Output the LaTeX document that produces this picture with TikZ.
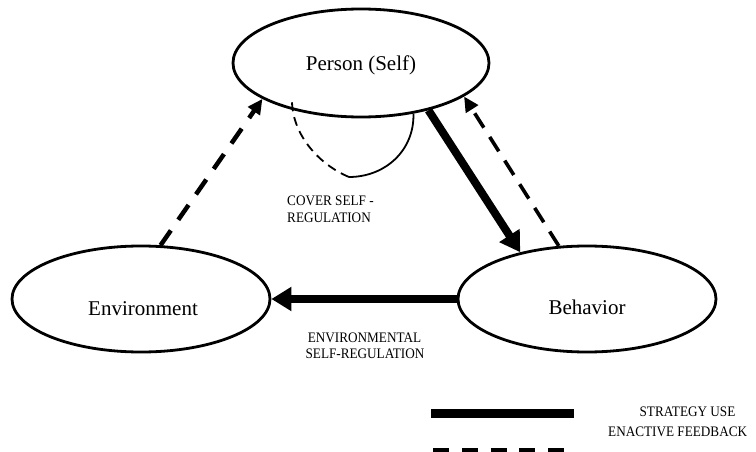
\documentclass[tikz,border=0pt]{standalone}
\usepackage{fontspec}
\setmainfont{Liberation Serif}
\usetikzlibrary{shapes.geometric,arrows.meta}
\newcommand{\tallish}[1]{\scalebox{1}[1.1]{#1}}
\begin{document}
\begin{tikzpicture}[x=1pt,y=-1pt,
  bubble/.style={ellipse, draw, line width=2.8pt, inner sep=0pt},
  bigtxt/.style={font=\fontsize{21}{25}\selectfont, inner sep=0pt, anchor=base},
  smalltxt/.style={font=\fontsize{13.2}{16}\selectfont, inner sep=0pt, anchor=base},
  strongarrow/.style={line width=8pt, -{Triangle[length=20pt,width=23pt]}},
  fbarrow/.style={line width=#1, dash pattern=on 18pt off 13pt, -{Triangle[length=15pt,width=14pt]}},
  arcline/.style={line width=1.8pt}
]
\useasboundingbox[fill=white] (0,0) rectangle (756,452);

% ellipses
\node[bubble, minimum width=256pt, minimum height=108pt] (P) at (361,63) {};
\node[bubble, minimum width=258pt, minimum height=106pt] (E) at (141,299) {};
\node[bubble, minimum width=258pt, minimum height=106pt] (B) at (587,299) {};

% ellipse texts
\node[bigtxt] (Pt) at (361,71) {Person (Self)};
\node[bigtxt] (Et) at (143,315) {Environment};
\node[bigtxt] (Bt) at (587,314) {Behavior};

% connectors
\draw[fbarrow=4.5pt] (E.70.6) -- (P.-160);
\draw[strongarrow] (P.-35.5) -- (B.145.9);
\draw[fbarrow=3.6pt, dash pattern=on 17pt off 11pt] (B.118) -- (P.-18.6);
\draw[strongarrow] (B.west) -- (E.east);

% covert self-regulation loop
\coordinate (arcm) at (349,177);
\draw[arcline] (P.-44) .. controls +(1,37) and +(36,0) .. (arcm);
\draw[arcline, dash pattern=on 9pt off 6pt] (arcm) .. controls +(-29,-12) and +(1,34) .. (292,102);

% labels
\node[smalltxt, anchor=base west] (c1) at (287,205) {\tallish{COVER SELF -}};
\node[smalltxt, anchor=base west] (c2) at (287,222) {\tallish{REGULATION}};
\node[smalltxt] (e1) at (364.5,342.5) {\tallish{ENVIRONMENTAL}};
\node[smalltxt] (e2) at (365,358) {\tallish{SELF-REGULATION}};

% legend
\coordinate (la) at (431,413);
\coordinate (lb) at (574,413);
\draw[line width=9pt] (la) -- (lb);
\coordinate (lc) at (433,452.5);
\coordinate (ld) at (566,452.5);
\draw[line width=9pt, dash pattern=on 16pt off 12.75pt] (lc) -- (ld);
\node[smalltxt] (s1) at (687.5,416.5) {\tallish{STRATEGY USE}};
\node[smalltxt, anchor=base west] (s2) at (608,436.5) {\tallish{ENACTIVE FEEDBACK}};
\end{tikzpicture}
\end{document}
